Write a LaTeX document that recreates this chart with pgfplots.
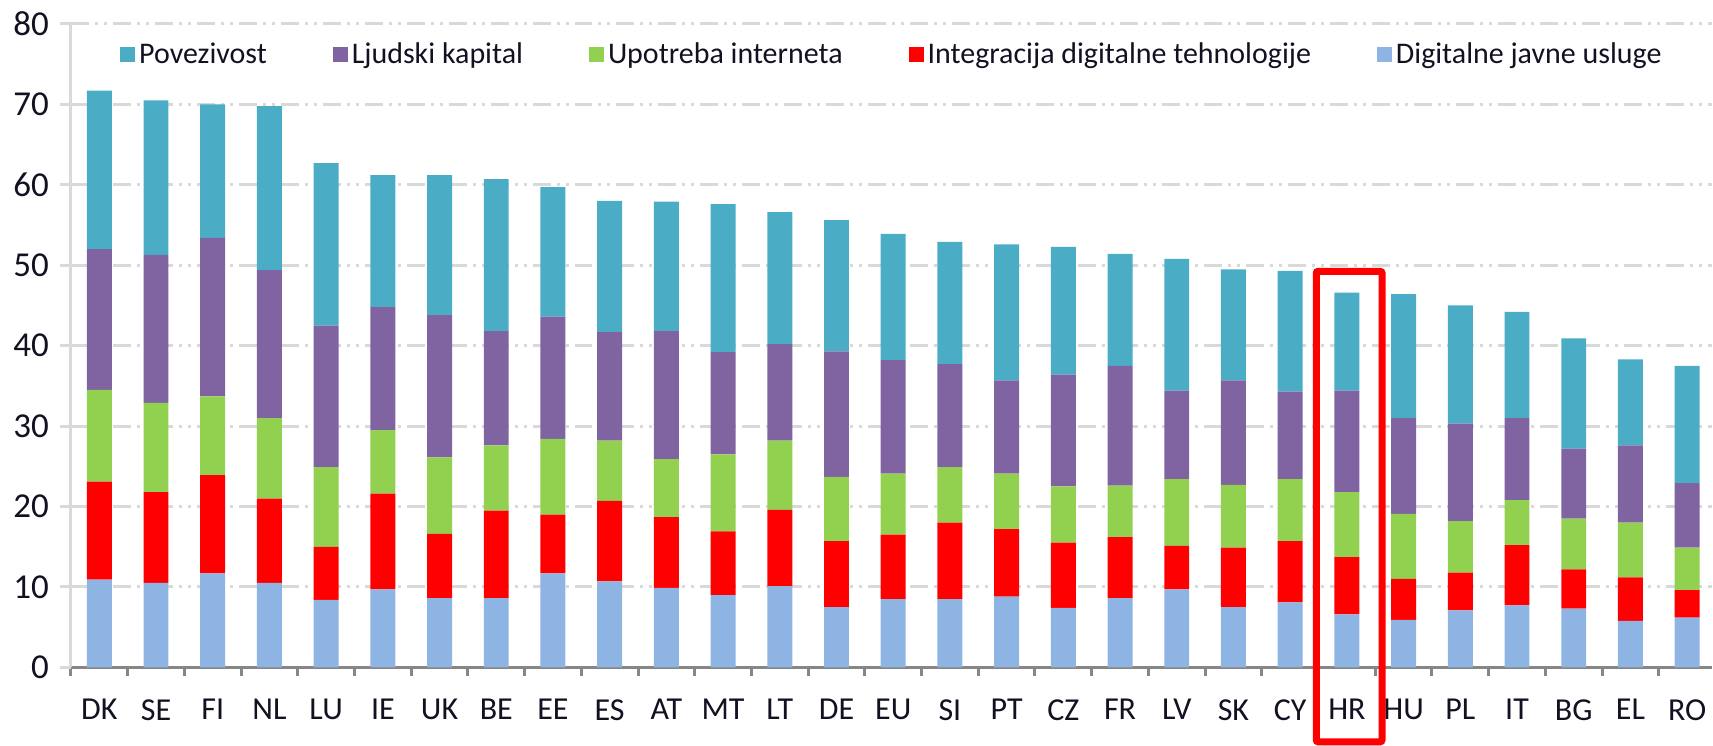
\documentclass[border=0pt]{standalone}
\usepackage{fontspec}
\setmainfont{Carlito}
\usepackage{pgfplots}
\usepackage{pgfplotstable}
\pgfplotsset{compat=1.18}
\definecolor{cPov}{HTML}{4BACC6}
\definecolor{cLju}{HTML}{8064A2}
\definecolor{cUpo}{HTML}{92D050}
\definecolor{cInt}{HTML}{FF0000}
\definecolor{cDig}{HTML}{8EB4E3}
\definecolor{gridgray}{HTML}{D9D9D9}
\definecolor{axgray}{HTML}{868686}
\definecolor{txt}{HTML}{111122}
\pgfplotstableread{
idx b r g p c
0 10.9 12.2 11.4 17.5 19.7
1 10.5 11.3 11.1 18.4 19.2
2 11.7 12.2 9.8 19.7 16.6
3 10.5 10.5 10.0 18.4 20.4
4 8.4 6.6 9.9 17.6 20.2
5 9.7 11.9 7.9 15.3 16.4
6 8.6 8.0 9.5 17.7 17.4
7 8.6 10.9 8.1 14.2 18.9
8 11.7 7.3 9.4 15.2 16.1
9 10.7 10.0 7.5 13.5 16.3
10 9.9 8.8 7.2 15.9 16.1
11 9.0 7.9 9.6 12.7 18.4
12 10.1 9.5 8.6 12.0 16.4
13 7.5 8.2 8.0 15.6 16.3
14 8.5 8.0 7.6 14.1 15.7
15 8.5 9.5 6.9 12.8 15.2
16 8.8 8.4 6.9 11.6 16.9
17 7.4 8.1 7.0 13.9 15.9
18 8.6 7.6 6.4 14.9 13.9
19 9.7 5.4 8.3 11.0 16.4
20 7.5 7.4 7.8 13.0 13.8
21 8.1 7.6 7.7 10.9 15.0
22 6.6 7.1 8.1 12.6 12.2
23 5.9 5.1 8.1 11.9 15.4
24 7.1 4.7 6.4 12.1 14.7
25 7.7 7.5 5.6 10.2 13.2
26 7.3 4.9 6.3 8.7 13.7
27 5.8 5.4 6.8 9.6 10.7
28 6.2 3.4 5.3 8.0 14.6
}\datatable
\begin{document}
\begin{tikzpicture}
\begin{axis}[
  name=ax,
  scale only axis,
  width=821pt, height=322pt,
  ybar stacked, bar width=0.44,
  xmin=-0.5, xmax=28.43, ymin=0, ymax=80,
  enlarge x limits=false, enlarge y limits=false,
  clip=false,
  axis lines*=left,
  x axis line style={draw=axgray, line width=1.5pt},
  y axis line style={draw=gridgray, line width=1.5pt},
  tick align=outside,
  xtick={0,...,28},
  xticklabels={DK,SE,FI,NL,LU,IE,UK,BE,EE,ES,AT,MT,LT,DE,EU,SI,PT,CZ,FR,LV,SK,CY,HR,HU,PL,IT,BG,EL,RO},
  major x tick style={draw=none},
  minor xtick={-0.5,0.5,...,27.5},
  minor x tick style={draw=axgray, line width=1.5pt},
  minor tick length=4.5pt,
  ytick={0,10,...,80},
  major y tick style={draw=gridgray, line width=1.5pt},
  major tick length=5.5pt,
  ymajorgrids,
  major grid style={draw=gridgray, line width=1.5pt, dash pattern=on 9pt off 3pt on 1.5pt off 3pt on 1.5pt off 3pt},
  /pgf/number format/assume math mode=true,
  tick label style={text=txt},
  xticklabel style={font=\fontsize{16}{19}\selectfont, yshift=-7pt},
  yticklabel style={font=\fontsize{17.5}{20}\selectfont, xshift=-2pt},
  legend style={at={(0.501,0.952)}, anchor=center, draw=none, fill=none,
    font=\fontsize{15}{18}\selectfont, text=txt, inner sep=0pt,
    /tikz/every even column/.append style={column sep=31pt}},
  legend columns=5,
  legend image code/.code={\fill[#1] (0pt,-3.75pt) rectangle (7.5pt,3.75pt);},
  reverse legend,
]
\addplot[fill=cDig, draw=none] table[x=idx,y=b]{\datatable};
\addlegendentry{Digitalne javne usluge}
\addplot[fill=cInt, draw=none] table[x=idx,y=r]{\datatable};
\addlegendentry{Integracija digitalne tehnologije}
\addplot[fill=cUpo, draw=none] table[x=idx,y=g]{\datatable};
\addlegendentry{Upotreba interneta}
\addplot[fill=cLju, draw=none] table[x=idx,y=p]{\datatable};
\addlegendentry{Ljudski kapital}
\addplot[fill=cPov, draw=none] table[x=idx,y=c]{\datatable};
\addlegendentry{Povezivost}
\draw[red, line width=3.5pt, rounded corners=1pt] (axis cs:21.46,-9.25) rectangle (axis cs:22.62,49.25);
\end{axis}
\path ([xshift=-35.5pt,yshift=-39pt]ax.south west) rectangle ([yshift=12pt]ax.north east);
\end{tikzpicture}
\end{document}
